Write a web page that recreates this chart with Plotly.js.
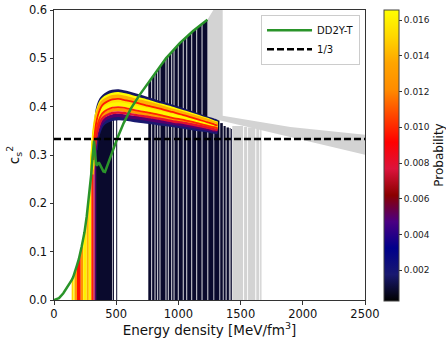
<!DOCTYPE html>
<html><head><meta charset="utf-8">
<script src="https://cdn.plot.ly/plotly-3.0.1.min.js"></script>
<style>html,body{margin:0;padding:0;background:#fff}#chart{width:446px;height:338px}</style>
</head><body><div id="chart"></div>
<script>
// ---------------- data ----------------
// DD2Y-T hadronic EoS: c_s^2 vs energy density
const greenX = [0, 40, 75, 115, 142, 155, 165, 185, 200, 215, 222, 235, 245, 263, 275, 280, 295, 300, 310, 316, 322, 327, 333, 338, 345, 352, 360, 370, 385, 397, 410, 437, 470, 510, 560, 620, 690, 758, 825, 900, 1013, 1120, 1233];
const greenY = [0, 0.004, 0.014, 0.029, 0.041, 0.048, 0.055, 0.072, 0.085, 0.100, 0.110, 0.127, 0.140, 0.173, 0.200, 0.210, 0.249, 0.262, 0.295, 0.318, 0.330, 0.315, 0.292, 0.281, 0.278, 0.283, 0.285, 0.280, 0.270, 0.266, 0.265, 0.285, 0.310, 0.335, 0.366, 0.397, 0.425, 0.450, 0.475, 0.500, 0.532, 0.557, 0.580];

// conformal limit
const thirdX = [0, 2500];
const thirdY = [1/3, 1/3];

// phase-transition onsets below DD2Y-T (energy-density ranges and probabilities)
const zoneStart = [142, 155, 165, 185, 215, 235, 263, 280, 300, 316, 327];
const zoneEnd   = [155, 165, 185, 215, 235, 263, 280, 300, 316, 327, 338];
const zoneProb  = [0.0150, 0.0165, 0.0130, 0.0095, 0.0125, 0.0160, 0.0140, 0.0160, 0.0100, 0.0075, 0.0050];

// low-probability onsets that follow DD2Y-T far up
const lateStart = 758, lateEnd = 1233, lateProb = 0.0009;
const lateGaps  = [785, 812, 833, 852, 900, 919, 946, 965, 999, 1039, 1067, 1107, 1147, 1190];

// low-probability stripes (start, end, top, probability)
const navyStart = [338, 473, 500, 1240, 1288, 1336, 1363, 1387, 1412, 1423];
const navyEnd   = [468, 482, 508, 1282, 1330, 1357, 1380, 1406, 1419, 1430];
const navyTop   = [0.372, 0.375, 0.375, 0.372, 0.372, 0.366, 0.360, 0.357, 0.356, 0.354];
const navyProb  = [0.0009, 0.0009, 0.0009, 0.0009, 0.0009, 0.0009, 0.0009, 0.0009, 0.0009, 0.0009];

// unconstrained (grey) region
const greyX = [1233, 1281, 1356, 1356, 1900, 2500, 2500, 1330, 1233];
const greyY = [0.580, 0.600, 0.600, 0.381, 0.358, 0.342, 0.3005, 0.372, 0.372];
const greyStart = [1433, 1528, 1560, 1626, 1657];
const greyEnd   = [1520, 1553, 1618, 1650, 1668];
const greyTop   = [0.360, 0.358, 0.357, 0.355, 0.354];

// quark-matter branches (c_s^2 curves) and their probabilities
const bandX = [305, 315, 325, 335, 345, 360, 380, 400, 430, 470, 520, 580, 650, 750, 850, 950, 1050, 1150, 1230, 1290, 1315];
const bandY = [
  [null, null, 0.30, 0.35, 0.385, 0.403, 0.415, 0.421, 0.427, 0.431, 0.432, 0.429, 0.424, 0.416, 0.408, 0.400, 0.392, 0.383, 0.376, 0.371, 0.368],
  [null, null, null, 0.31, 0.335, 0.348, 0.360, 0.366, 0.371, 0.375, 0.376, 0.375, 0.372, 0.369, 0.365, 0.362, 0.358, 0.354, 0.351, 0.348, 0.347],
  [null, null, 0.29, 0.325, 0.340, 0.354, 0.366, 0.372, 0.377, 0.381, 0.382, 0.380, 0.378, 0.374, 0.370, 0.366, 0.362, 0.358, 0.354, 0.351, 0.350],
  [0.27, 0.32, 0.352, 0.372, 0.385, 0.398, 0.410, 0.416, 0.421, 0.425, 0.426, 0.423, 0.418, 0.411, 0.403, 0.396, 0.388, 0.380, 0.373, 0.367, 0.365],
  [0.26, 0.31, 0.345, 0.366, 0.379, 0.393, 0.405, 0.411, 0.416, 0.420, 0.421, 0.418, 0.413, 0.407, 0.400, 0.392, 0.385, 0.377, 0.371, 0.365, 0.363],
  [0.27, 0.315, 0.340, 0.357, 0.369, 0.383, 0.395, 0.401, 0.406, 0.410, 0.411, 0.408, 0.404, 0.398, 0.392, 0.385, 0.379, 0.371, 0.366, 0.361, 0.359],
  [0.28, 0.32, 0.338, 0.352, 0.363, 0.377, 0.389, 0.395, 0.400, 0.404, 0.405, 0.403, 0.399, 0.393, 0.387, 0.381, 0.375, 0.369, 0.363, 0.359, 0.357],
  [null, 0.29, 0.322, 0.341, 0.352, 0.366, 0.378, 0.384, 0.389, 0.393, 0.394, 0.392, 0.389, 0.384, 0.379, 0.374, 0.369, 0.364, 0.359, 0.356, 0.354],
  [null, null, 0.30, 0.333, 0.346, 0.360, 0.372, 0.378, 0.383, 0.387, 0.388, 0.386, 0.383, 0.379, 0.375, 0.370, 0.366, 0.361, 0.357, 0.353, 0.352],
  [null, 0.29, 0.335, 0.360, 0.374, 0.388, 0.400, 0.406, 0.411, 0.415, 0.416, 0.413, 0.409, 0.402, 0.396, 0.389, 0.382, 0.374, 0.368, 0.363, 0.361],
  [null, 0.29, 0.325, 0.345, 0.357, 0.371, 0.383, 0.389, 0.394, 0.398, 0.399, 0.397, 0.393, 0.388, 0.383, 0.377, 0.372, 0.366, 0.361, 0.357, 0.355]
];
const bandProb = [0.0016, 0.0018, 0.0050, 0.0165, 0.0140, 0.0155, 0.0163, 0.0130, 0.0080, 0.0098, 0.0100];

const cbTicks = [0.002, 0.004, 0.006, 0.008, 0.010, 0.012, 0.014, 0.016];
const pMin = 0.0003, pMax = 0.0166;

// ---------------- styling ----------------
const bandWidth = [4, 4, 3.5, 4, 4, 4, 4, 3.5, 2.5, 1.8, 1.8];
const probScale = [[0,'#000000'],[0.0909,'#191970'],[0.1818,'#00008b'],[0.2727,'#4b0082'],[0.3636,'#8b0000'],[0.4545,'#dc143c'],[0.5454,'#ff0000'],[0.6364,'#ff4500'],[0.7273,'#ff8c00'],[0.8182,'#ffa500'],[0.9091,'#ffd700'],[1,'#ffff00']];
function hex2rgb(h){return [parseInt(h.slice(1,3),16),parseInt(h.slice(3,5),16),parseInt(h.slice(5,7),16)];}
function probColor(p){
  let t=(p-pMin)/(pMax-pMin); t=Math.max(0,Math.min(1,t));
  for(let i=1;i<probScale.length;i++){
    if(t<=probScale[i][0]){
      const a=probScale[i-1], b=probScale[i];
      const f=(t-a[0])/(b[0]-a[0]);
      const ca=hex2rgb(a[1]), cb=hex2rgb(b[1]);
      return 'rgb('+ca.map((v,k)=>Math.round(v+(cb[k]-v)*f)).join(',')+')';
    }
  }
  return probScale[probScale.length-1][1];
}
function greenSlice(s,e){
  const xs=[],ys=[];
  greenX.forEach((x,i)=>{if(x>=s&&x<=e){xs.push(x);ys.push(greenY[i]);}});
  return {xs,ys};
}

const traces=[];
// grey region
traces.push({type:'scatter',x:greyX,y:greyY,fill:'toself',fillcolor:'#d3d3d3',mode:'lines',line:{width:0,color:'#d3d3d3'},showlegend:false,hoverinfo:'skip'});
traces.push({type:'bar',x:greyStart.map((s,i)=>(s+greyEnd[i])/2),width:greyStart.map((s,i)=>greyEnd[i]-s),y:greyTop,marker:{color:'#d3d3d3',line:{width:0}},showlegend:false,hoverinfo:'skip'});
// coloured onset zones under DD2Y-T
zoneStart.forEach((s,i)=>{
  const g=greenSlice(s,zoneEnd[i]);
  traces.push({type:'scatter',x:g.xs,y:g.ys,fill:'tozeroy',fillcolor:probColor(zoneProb[i]),mode:'lines',line:{width:0.6,color:probColor(zoneProb[i])},showlegend:false,hoverinfo:'skip'});
});
// late onsets
{
  const g=greenSlice(lateStart,lateEnd);
  traces.push({type:'scatter',x:g.xs,y:g.ys,fill:'tozeroy',fillcolor:probColor(lateProb),mode:'lines',line:{width:0,color:probColor(lateProb)},showlegend:false,hoverinfo:'skip'});
  const gx=[],gy=[];
  lateGaps.forEach(x=>{gx.push(x,x,null);gy.push(0,0.6,null);});
  traces.push({type:'scatter',x:gx,y:gy,mode:'lines',line:{width:1,color:'rgba(255,255,255,0.85)'},showlegend:false,hoverinfo:'skip'});
}
// low-probability stripes (carry the colour bar)
traces.push({type:'bar',x:navyStart.map((s,i)=>(s+navyEnd[i])/2),width:navyStart.map((s,i)=>navyEnd[i]-s),y:navyTop,
  marker:{color:navyProb,colorscale:probScale,cmin:pMin,cmax:pMax,showscale:true,line:{width:0},
    colorbar:{x:1.061,xanchor:'left',xpad:0,y:0.5,yanchor:'middle',ypad:0,len:1.003,lenmode:'fraction',thickness:15,thicknessmode:'pixels',
      outlinewidth:1,outlinecolor:'#444',tickvals:cbTicks,ticktext:cbTicks.map(v=>v.toFixed(3)),ticks:'outside',ticklen:3,tickcolor:'#333',
      tickfont:{family:'DejaVu Sans',size:9,color:'#222'},title:{text:'Probability',side:'right',font:{family:'DejaVu Sans',size:12,color:'#111'}}}},
  showlegend:false,hoverinfo:'skip'});
// quark branches
bandY.forEach((ys,i)=>{
  traces.push({type:'scatter',x:bandX,y:ys,mode:'lines',line:{width:bandWidth[i],color:probColor(bandProb[i]),shape:'spline',smoothing:0.6},showlegend:false,hoverinfo:'skip'});
});
// DD2Y-T and 1/3
traces.push({type:'scatter',x:greenX,y:greenY,mode:'lines',name:'DD2Y-T',line:{width:2.5,color:'#2a942a'}});
traces.push({type:'scatter',x:thirdX,y:thirdY,mode:'lines',name:'1/3',line:{width:2.5,color:'#000',dash:'7px,3px'}});

const font={family:'DejaVu Sans',color:'#111'};
const layout={
  width:446,height:338,margin:{l:54,r:81,t:10,b:38,autoexpand:false},
  paper_bgcolor:'#fff',plot_bgcolor:'#fff',barmode:'overlay',font:font,showlegend:true,
  xaxis:{range:[0,2500],tickvals:[0,500,1000,1500,2000,2500],ticks:'outside',ticklen:3.5,tickwidth:1,tickcolor:'#333',
    showline:true,mirror:true,linecolor:'#333',linewidth:1,showgrid:false,zeroline:false,
    tickfont:{family:'DejaVu Sans',size:11.5,color:'#111'},
    title:{text:'Energy density [MeV/fm<sup>3</sup>]',font:{family:'DejaVu Sans',size:13.5,color:'#111'},standoff:4}},
  yaxis:{range:[0,0.6],tickvals:[0,0.1,0.2,0.3,0.4,0.5,0.6],tickformat:'.1f',ticks:'outside',ticklen:3.5,tickwidth:1,tickcolor:'#333',
    showline:true,mirror:true,linecolor:'#333',linewidth:1,showgrid:false,zeroline:false,
    tickfont:{family:'DejaVu Sans',size:11.5,color:'#111'},
    title:{text:'c<sub>s</sub><sup>2</sup>',font:{family:'DejaVu Sans',size:13.5,color:'#111'},standoff:6}},
  legend:{x:0.984,xanchor:'right',y:0.984,yanchor:'top',bgcolor:'rgba(255,255,255,0.85)',bordercolor:'#ccc',borderwidth:1,
    font:{family:'DejaVu Sans',size:10,color:'#111'},itemwidth:45,tracegroupgap:0}
};
Plotly.newPlot('chart',traces,layout,{displayModeBar:false,staticPlot:true});
</script></body></html>
